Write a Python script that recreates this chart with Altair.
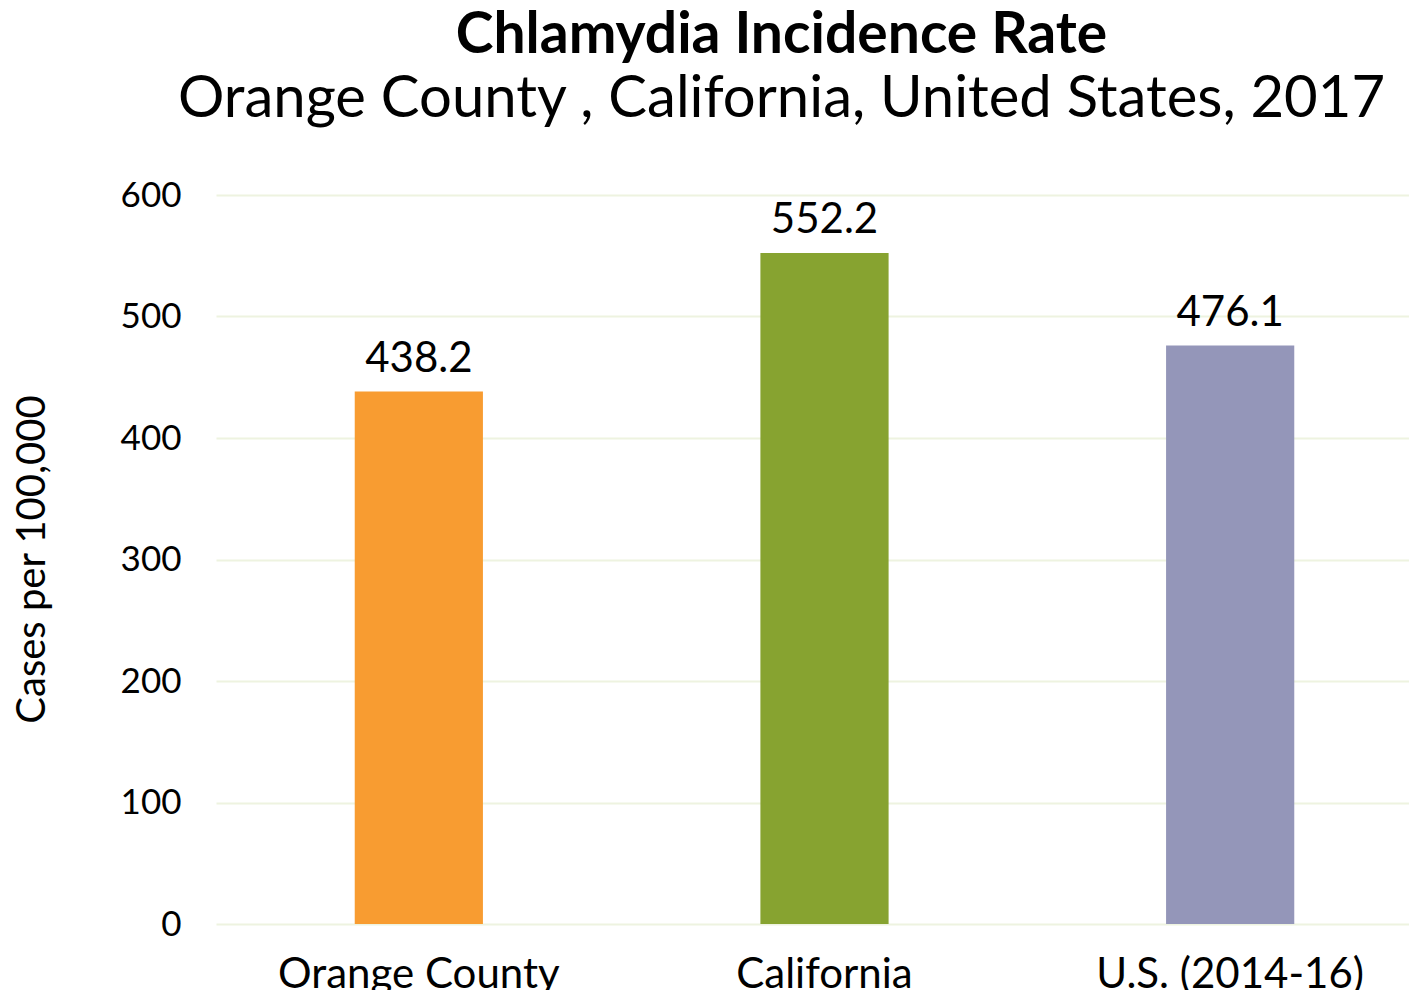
import altair as alt
import pandas as pd

categories = ["Orange County", "California", "U.S. (2014-16)"]
rates = [438.2, 552.2, 476.1]
labels = ["438.2", "552.2", "476.1"]
colors = ["#F89C31", "#87A330", "#9496B9"]

df = pd.DataFrame({"cat": categories, "rate": rates, "label": labels})

FONT = "Lato"
W, H = 1193, 729

x = alt.X("cat:N", sort=categories,
          scale=alt.Scale(range=[0, 1217], paddingInner=0.684, paddingOuter=0.342),
          axis=alt.Axis(title=None, labelAngle=0, ticks=False, domain=False, grid=False,
                        labelFontSize=42, labelFont=FONT, labelColor="#000000",
                        labelPadding=30, labelLimit=0))
y = alt.Y("rate:Q", scale=alt.Scale(domain=[0, 600]),
          axis=alt.Axis(title="Cases per 100,000", values=[0, 100, 200, 300, 400, 500, 600],
                        ticks=False, domain=False, grid=True, gridColor="#EEF3E0", gridWidth=2,
                        labelFontSize=35, labelFont=FONT, labelColor="#000000", labelPadding=35,
                        titleFontSize=40, titleFont=FONT, titleFontWeight="normal",
                        titleColor="#000000", titleX=-172, titleY=364,
                        titleBaseline="alphabetic", titleAlign="center", titleAngle=-90))

bars = alt.Chart(df).mark_bar().encode(
    x=x, y=y,
    color=alt.Color("cat:N", sort=categories,
                    scale=alt.Scale(domain=categories, range=colors), legend=None))

text = alt.Chart(df).mark_text(font=FONT, fontSize=42, color="#000000",
                               baseline="alphabetic", dy=-20).encode(
    x=alt.X("cat:N", sort=categories),
    y=alt.Y("rate:Q"),
    text="label:N")

chart = alt.layer(bars, text).properties(
    width=W, height=H,
    background="#FFFFFF",
    autosize=alt.AutoSizeParams(type="none"),
    padding={"left": 208, "top": 187, "right": 0, "bottom": 66},
    title=alt.TitleParams(
        text="Chlamydia Incidence Rate",
        subtitle="Orange County , California, United States, 2017",
        font=FONT, fontSize=57, fontWeight="bold", color="#000000",
        subtitleFont=FONT, subtitleFontSize=58, subtitleColor="#000000",
        subtitleFontWeight="normal",
        anchor="middle", frame="group", dx=-31, offset=48, subtitlePadding=6),
).configure_view(strokeWidth=0, stroke="transparent").configure_axis(
    domain=False
)

chart.save("out.html", embed_options={"renderer": "svg", "actions": False})
